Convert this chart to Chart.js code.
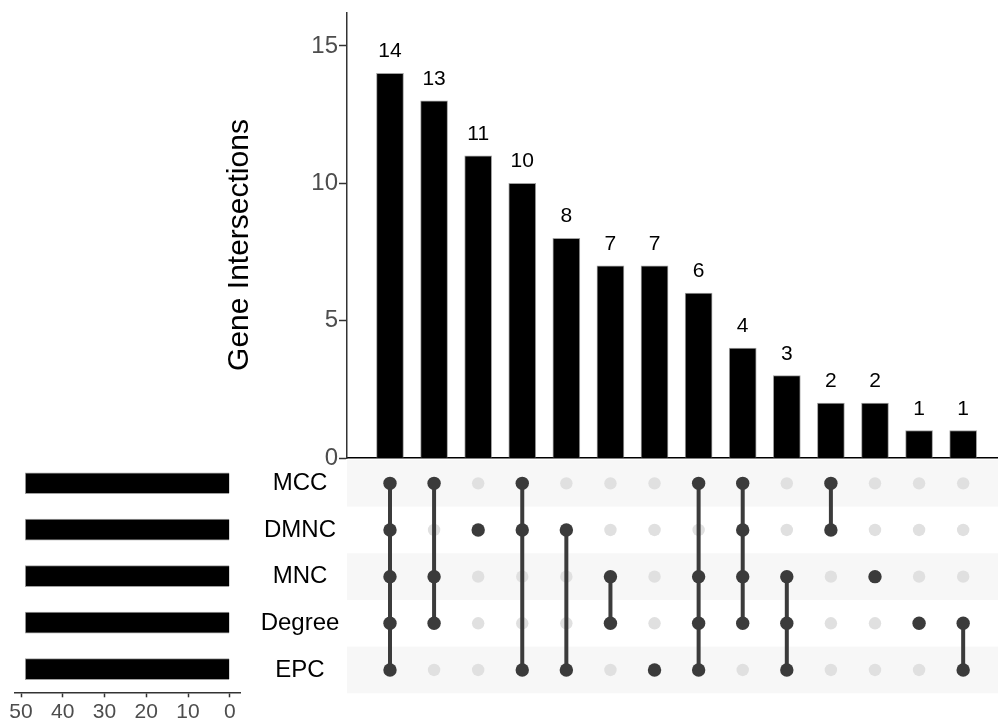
<!DOCTYPE html>
<html><head><meta charset="utf-8">
<script src="https://cdn.jsdelivr.net/npm/chart.js@4"></script>
<style>
html,body{margin:0;padding:0;background:#fff;overflow:hidden;width:998px;height:719px}
.box{position:absolute}
</style></head><body>
<div class="box" style="left:0;top:0;width:998px;height:480px"><canvas id="top"></canvas></div>
<div class="box" style="left:0;top:460px;width:250px;height:259px"><canvas id="size"></canvas></div>
<div class="box" style="left:230px;top:460px;width:768px;height:240px"><canvas id="mat"></canvas></div>
<script>
// ---------- data ----------
const setNames = ['MCC', 'DMNC', 'MNC', 'Degree', 'EPC'];
const setSizes = [49, 49, 49, 49, 49];
const intersectionCounts = [14, 13, 11, 10, 8, 7, 7, 6, 4, 3, 2, 2, 1, 1];
const intersectionSets = [
  ['MCC', 'DMNC', 'MNC', 'Degree', 'EPC'],
  ['MCC', 'MNC', 'Degree'],
  ['DMNC'],
  ['MCC', 'DMNC', 'EPC'],
  ['DMNC', 'EPC'],
  ['MNC', 'Degree'],
  ['EPC'],
  ['MCC', 'MNC', 'Degree', 'EPC'],
  ['MCC', 'DMNC', 'MNC', 'Degree'],
  ['MNC', 'Degree', 'EPC'],
  ['MCC', 'DMNC'],
  ['MNC'],
  ['Degree'],
  ['Degree', 'EPC']
];
const countTicks = [0, 5, 10, 15];
const sizeTicks = [0, 10, 20, 30, 40, 50];
const yTitle = 'Gene Intersections';

// ---------- style ----------
const F = '"Liberation Sans", Arial, Helvetica, sans-serif';
const DARK = '#3b3b3b';
const LIGHT = '#e0e0e0';
const SHADE = '#f7f7f7';
const X_MIN = -0.975, X_MAX = 13.79;
Chart.defaults.font.family = F;
Chart.defaults.animation = false;
Chart.defaults.responsive = true;
Chart.defaults.maintainAspectRatio = false;
Chart.defaults.plugins.legend.display = false;
Chart.defaults.plugins.tooltip.enabled = false;
function noPad(s) { s.paddingTop = 0; s.paddingBottom = 0; s.paddingLeft = 0; s.paddingRight = 0; }

// ---------- top: intersection sizes ----------
const topDecor = {
  id: 'topDecor',
  afterDatasetsDraw(chart) {
    const ctx = chart.ctx;
    const meta = chart.getDatasetMeta(0);
    ctx.save();
    ctx.font = '21px ' + F;
    ctx.fillStyle = '#000';
    ctx.textAlign = 'center';
    ctx.textBaseline = 'alphabetic';
    meta.data.forEach((el, i) => ctx.fillText(String(intersectionCounts[i]), el.x, el.y - 16));
    ctx.translate(240, 245);
    ctx.rotate(-Math.PI / 2);
    ctx.font = '30px ' + F;
    ctx.textBaseline = 'middle';
    ctx.fillText(yTitle, 0, 0);
    ctx.restore();
  }
};
new Chart(document.getElementById('top'), {
  type: 'bar',
  data: { datasets: [{ data: intersectionCounts.map((v, i) => ({ x: i, y: v })), backgroundColor: '#000', borderColor: '#a0a0a0', borderWidth: 1, barThickness: 27 }] },
  options: {
    layout: { autoPadding: false, padding: { left: 0, right: 0, top: 13, bottom: 22 } },
    scales: {
      x: { type: 'linear', offset: false, min: X_MIN, max: X_MAX, ticks: { display: false }, grid: { display: false, drawTicks: false, offset: false },
           border: { display: true, color: '#000', width: 1.5 }, afterFit(s) { s.height = 0; noPad(s); } },
      y: { type: 'linear', min: 0, max: 16.2, afterBuildTicks(s) { s.ticks = countTicks.map(v => ({ value: v })); },
           ticks: { color: '#4d4d4d', font: { size: 24 }, padding: 1 },
           grid: { display: true, drawOnChartArea: false, drawTicks: true, tickLength: 8, tickColor: '#333', tickWidth: 1.5 },
           border: { display: true, color: '#333', width: 1.5 }, afterFit(s) { s.width = 347; noPad(s); } }
    }
  },
  plugins: [topDecor]
});

// ---------- bottom left: set sizes ----------
new Chart(document.getElementById('size'), {
  type: 'bar',
  data: { datasets: [{ data: setSizes.map((v, i) => ({ x: v, y: i })), backgroundColor: '#000', borderColor: '#a0a0a0', borderWidth: 1, barThickness: 21 }] },
  options: {
    indexAxis: 'y',
    layout: { autoPadding: false, padding: { left: 15, right: 10, top: 0, bottom: 0 } },
    scales: {
      x: { type: 'linear', reverse: true, min: -2.45, max: 51.45, position: 'bottom',
           afterBuildTicks(s) { s.ticks = sizeTicks.map(v => ({ value: v })); },
           ticks: { color: '#4d4d4d', font: { size: 21 }, padding: 2, maxRotation: 0, autoSkip: false },
           grid: { display: true, drawOnChartArea: false, tickLength: 5, tickColor: '#333', tickWidth: 1.5 },
           border: { display: true, color: '#333', width: 1.5 }, afterFit(s) { s.height = 259 - 232.3; noPad(s); } },
      y: { type: 'linear', offset: false, min: -0.5, max: 4.5, reverse: true, display: false, grid: { offset: false } }
    }
  }
});

// ---------- bottom right: membership matrix ----------
const bands = {
  id: 'bands',
  beforeDatasetsDraw(chart) {
    const { ctx, chartArea, scales } = chart;
    ctx.save();
    ctx.fillStyle = SHADE;
    setNames.forEach((s, i) => {
      if (i % 2 === 0) {
        const y0 = scales.y.getPixelForValue(i - 0.5), y1 = scales.y.getPixelForValue(i + 0.5);
        ctx.fillRect(chartArea.left, Math.min(y0, y1), chartArea.right - chartArea.left, Math.abs(y1 - y0));
      }
    });
    ctx.restore();
  }
};
const emptyCells = [];
intersectionSets.forEach((sets, c) => setNames.forEach((s, r) => { if (!sets.includes(s)) emptyCells.push({ x: c, y: r }); }));
const matDatasets = intersectionSets.map((sets, c) => ({
  type: 'line', showLine: true, data: sets.map(s => ({ x: c, y: setNames.indexOf(s) })),
  borderColor: DARK, borderWidth: 4, pointRadius: 6.7, pointBackgroundColor: DARK, pointBorderWidth: 0, order: 0
}));
matDatasets.push({ type: 'scatter', data: emptyCells, pointRadius: 6.2, pointBackgroundColor: LIGHT, pointBorderWidth: 0, showLine: false, order: 10 });
new Chart(document.getElementById('mat'), {
  type: 'scatter',
  data: { datasets: matDatasets },
  options: {
    layout: { autoPadding: false, padding: { left: 0, right: 0, top: 0, bottom: 6.7 } },
    scales: {
      x: { type: 'linear', offset: false, min: X_MIN, max: X_MAX, display: false },
      y: { type: 'linear', offset: false, min: -0.5, max: 4.5, reverse: true,
           afterBuildTicks(s) { s.ticks = setNames.map((n, i) => ({ value: i })); },
           ticks: { color: '#000', font: { size: 24 }, crossAlign: 'center', padding: 7.65, callback: v => setNames[v] },
           grid: { display: false, drawTicks: false }, border: { display: false }, afterFit(s) { s.width = 117; noPad(s); } }
    }
  },
  plugins: [bands]
});
</script>
</body></html>
